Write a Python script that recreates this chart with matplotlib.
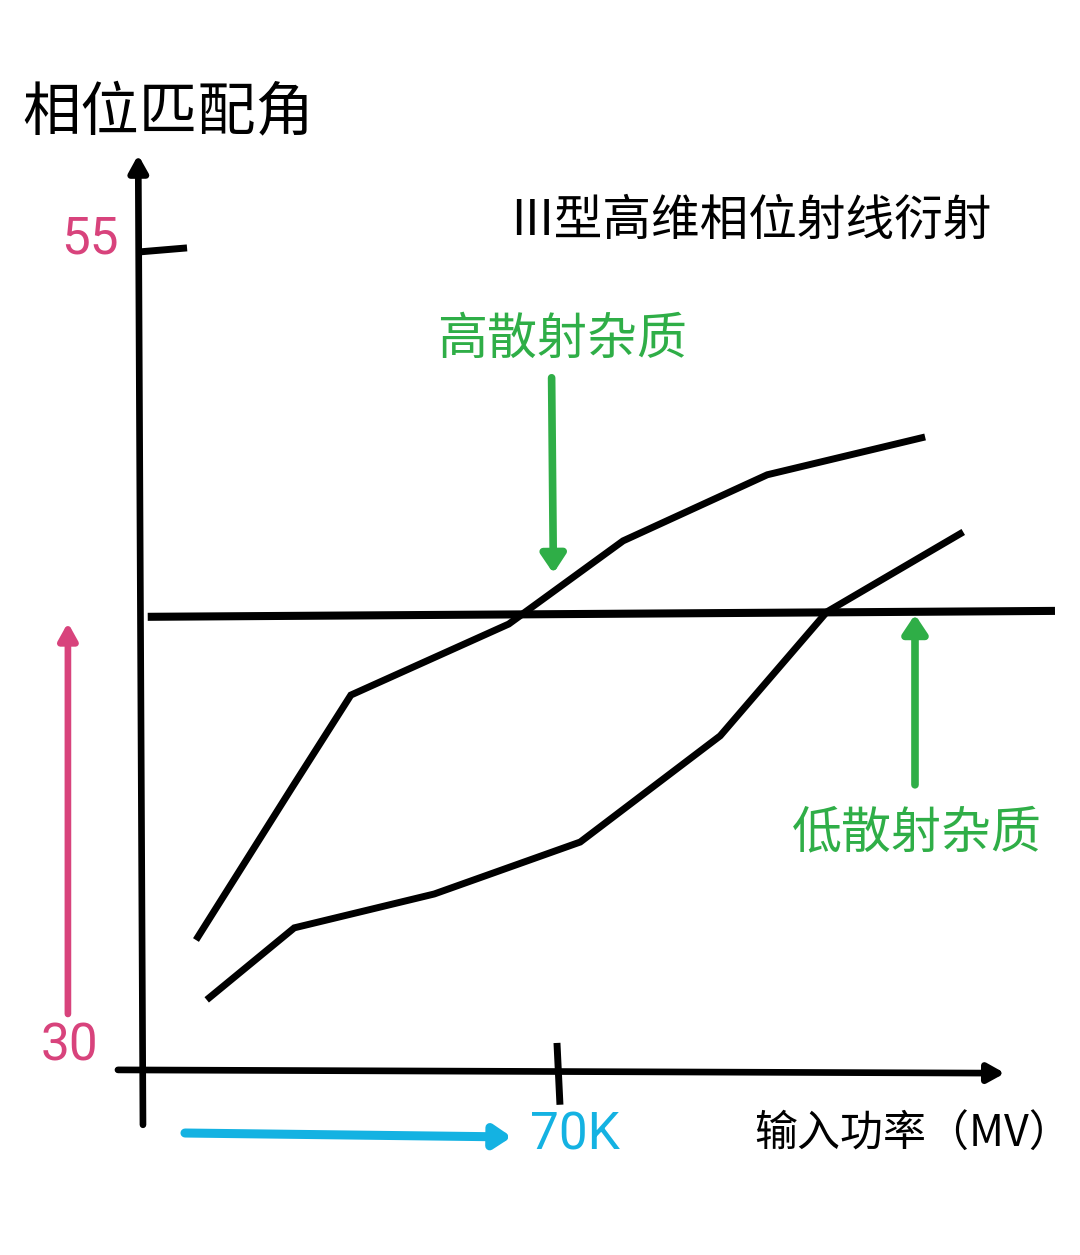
import matplotlib
matplotlib.use("Agg")
import matplotlib.pyplot as plt

plt.rcParams["font.family"] = ["Noto Sans CJK SC", "DejaVu Sans"]

# curve data (x: input power in K units, y: phase matching angle)
high_x = [9.4, 25.5, 35.4, 61.9, 81.1, 105.3, 131.8]
high_y = [33.95, 38.58, 41.40, 43.56, 46.09, 48.10, 49.25]
low_x = [11.2, 25.9, 49.4, 73.9, 97.4, 115.3, 138.2]
low_y = [32.13, 34.32, 35.35, 36.93, 40.16, 43.93, 46.36]
ref_x = [1.3, 153.6]
ref_y = [43.78, 43.96]

y_ticks = [30, 55]
x_tick = 70
x_tick_label = "70K"

title = "III型高维相位射线衍射"
y_label = "相位匹配角"
x_label = "输入功率（MV）"
high_label = "高散射杂质"
low_label = "低散射杂质"

MAGENTA = "#d8437c"
CYAN = "#14b2e2"
GREEN = "#2fae47"

fig = plt.figure(figsize=(10.8, 12.55), dpi=100)
ax = fig.add_axes([0, 0, 1, 1])
ax.set_xlim(-23.5, 157.8)
ax.set_ylim(24.37, 62.54)
ax.axis("off")


def arrow(x0, y0, x1, y1, color, lw, head=1.0, width=0.5):
    ax.annotate(
        "", xy=(x1, y1), xytext=(x0, y0),
        arrowprops=dict(arrowstyle=f"-|>,head_length={0.9 * head},head_width={width * head}",
                        color=color, lw=lw, shrinkA=0, shrinkB=0),
    )


# axes with arrow heads
arrow(0.5, 28.33, -0.3, 57.83, "black", 4.8, head=1.1)
arrow(-3.7, 30.0, 145.2, 29.9, "black", 4.8, head=1.1)

# ticks
ax.plot([0, 7.9], [54.88, 55.0], color="black", lw=5, solid_capstyle="butt")
ax.plot([x_tick, x_tick + 0.5], [30.82, 28.94], color="black", lw=5, solid_capstyle="butt")

# curves
ax.plot(high_x, high_y, color="black", lw=5, solid_capstyle="butt", solid_joinstyle="miter")
ax.plot(low_x, low_y, color="black", lw=5, solid_capstyle="butt", solid_joinstyle="miter")
ax.plot(ref_x, ref_y, color="black", lw=5.8, solid_capstyle="butt")

# annotation arrows
arrow(69.1, 51.05, 69.4, 45.1, GREEN, 5.5, head=1.2, width=0.6)
arrow(130.1, 38.67, 130.1, 43.85, GREEN, 5.5, head=1.2, width=0.6)
arrow(-12.1, 31.7, -12.1, 43.6, MAGENTA, 4.8, head=1.1)
arrow(7.55, 28.08, 62.4, 27.96, CYAN, 6.5, head=1.1, width=0.6)

# texts
ax.text(-19.7, 59.1, y_label, fontsize=42, va="center", ha="left")
ax.text(102.7, 55.8, title, fontsize=35, va="center", ha="center")
ax.text(70.8, 52.2, high_label, fontsize=36, va="center", ha="center", color=GREEN)
ax.text(130.4, 37.2, low_label, fontsize=36, va="center", ha="center", color=GREEN)
ax.text(103.1, 28.02, x_label, fontsize=31, va="center", ha="left")

ax.text(-3.6, y_ticks[1] + 0.25, str(y_ticks[1]), fontsize=37, va="center", ha="right",
        color=MAGENTA, family=["Roboto", "DejaVu Sans"])
ax.text(-7.0, y_ticks[0] + 0.7, str(y_ticks[0]), fontsize=37, va="center", ha="right",
        color=MAGENTA, family=["Roboto", "DejaVu Sans"])
ax.text(65.5, 28.0, x_tick_label, fontsize=37, va="center", ha="left",
        color=CYAN, family=["Roboto", "DejaVu Sans"])

fig.savefig("out.png", dpi=100, facecolor="white")
